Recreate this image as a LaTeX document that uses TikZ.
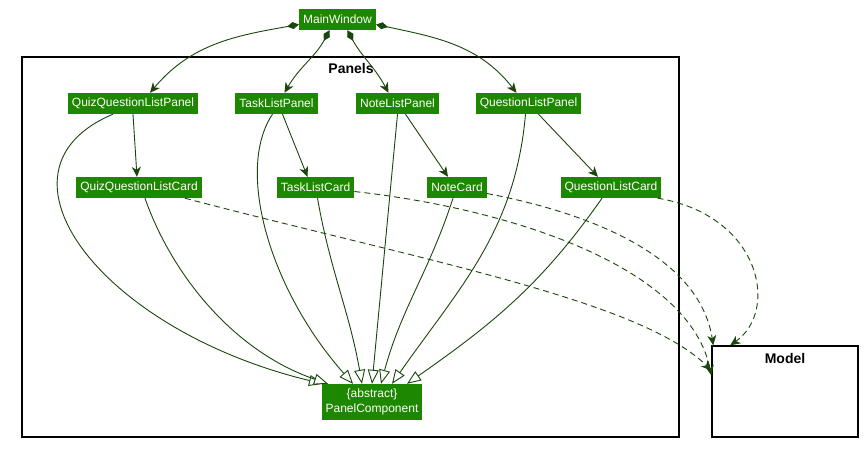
\documentclass[tikz,border=0pt]{standalone}
\usepackage{fontspec}
\setmainfont{Liberation Sans}
\usetikzlibrary{arrows.meta}
\definecolor{clsgreen}{RGB}{30,135,0}
\definecolor{edgegreen}{RGB}{25,70,10}
\begin{document}
\begin{tikzpicture}[x=1pt,y=-1pt]
\tikzstyle{every node}+=[inner sep=0pt]
\tikzstyle{cls}=[fill=clsgreen, text=white, font=\fontsize{12}{15}\selectfont, inner xsep=4pt, minimum height=21pt, align=center]
\tikzstyle{pkg}=[draw=black, line width=1.4pt]
\tikzstyle{pkgname}=[font=\fontsize{14}{16}\selectfont\bfseries]
\tikzstyle{owns}=[edgegreen, line width=0.9pt, {Diamond[length=12pt,width=7pt]}-{Stealth[length=10pt,width=9pt,inset=3pt]}]
\tikzstyle{uses}=[edgegreen, line width=0.9pt, -{Stealth[length=10pt,width=9pt,inset=3pt]}]
\tikzstyle{extends}=[edgegreen, line width=0.9pt, -{Triangle[open,fill=white,length=14pt,width=11pt]}]
\tikzstyle{needs}=[edgegreen, line width=0.9pt, dash pattern=on 6pt off 4pt, -{Stealth[length=10pt,width=9pt,inset=3pt]}]
\useasboundingbox (0,0) rectangle (868,448);

\node [pkg, minimum width=657pt, minimum height=380pt] (panels) at (350.5,247) {};
\node [pkgname] (panelsname) at (351,68) {Panels};
\node [pkg, minimum width=146pt, minimum height=91pt] (model) at (785,391.5) {};
\node [pkgname] (modelname) at (785,358) {Model};

\node [cls] (mw) at (337.5,19.5) {MainWindow};
\node [cls] (qqlp) at (133,103.5) {QuizQuestionListPanel};
\node [cls] (tlp) at (276.5,103.5) {TaskListPanel};
\node [cls] (nlp) at (397.5,103.5) {NoteListPanel};
\node [cls] (qlp) at (528.5,103.5) {QuestionListPanel};
\node [cls] (qqlc) at (139,187.5) {QuizQuestionListCard};
\node [cls] (tlc) at (315.5,187.5) {TaskListCard};
\node [cls] (nc) at (457,187.5) {NoteCard};
\node [cls] (qlc) at (611,187.5) {QuestionListCard};
\node [cls, minimum height=36pt] (pc) at (372,402) {\{abstract\}\\PanelComponent};

\draw [owns] ([yshift=-5pt]mw.west) to[out=190,in=50] ([xshift=17pt]qqlp.north);
\draw [owns] ([xshift=-8pt]mw.south) to[out=-118,in=60] ([xshift=8pt]tlp.north);
\draw [owns] ([xshift=10pt]mw.south) to[out=-62,in=118] ([xshift=-9pt]nlp.north);
\draw [owns] ([yshift=-5pt]mw.east) to[out=-12,in=128] ([xshift=-12pt]qlp.north);

\draw [uses] (qqlp.south) -- ([xshift=-2pt]qqlc.north);
\draw [uses] ([xshift=6pt]tlp.south) -- ([xshift=-8pt]tlc.north);
\draw [uses] ([xshift=8pt]nlp.south) -- ([xshift=-9pt]nc.north);
\draw [uses] ([xshift=10pt]qlp.south) -- ([xshift=-13pt]qlc.north);

\draw [extends] ([xshift=-20pt]qqlp.south) .. controls (-20,170) and (100,330) .. ([xshift=-49pt]pc.north);
\draw [extends] ([xshift=6pt]qqlc.south) .. controls (170,270) and (230,350) .. ([xshift=-44pt]pc.north);
\draw [extends] ([xshift=-4pt]tlp.south) .. controls (235,170) and (270,290) .. ([xshift=-19pt]pc.north);
\draw [extends] ([xshift=2pt]tlc.south) to[out=-80,in=100] ([xshift=-10pt]pc.north);
\draw [extends] (nlp.south) -- (pc.north);
\draw [extends] ([xshift=-4pt]nc.south) to[out=-108,in=75] ([xshift=9pt]pc.north);
\draw [extends] ([xshift=-3pt]qlp.south) to[out=-95,in=55] ([xshift=20pt]pc.north);
\draw [extends] ([xshift=-9pt]qlc.south) to[out=-125,in=35] ([xshift=35pt]pc.north);

\draw [needs] ([xshift=-17pt]qqlc.south east) .. controls (420,260) and (640,300) .. ([yshift=-25pt]model.north west);
\draw [needs] ([yshift=-4pt]tlc.east) .. controls (520,210) and (690,270) .. ([yshift=-30pt]model.north west);
\draw [needs] ([yshift=-6pt]nc.east) .. controls (600,215) and (700,260) .. ([xshift=2pt]model.north west);
\draw [needs] ([xshift=-4pt]qlc.south east) .. controls (760,215) and (780,310) .. ([xshift=19pt]model.north west);
\end{tikzpicture}
\end{document}
